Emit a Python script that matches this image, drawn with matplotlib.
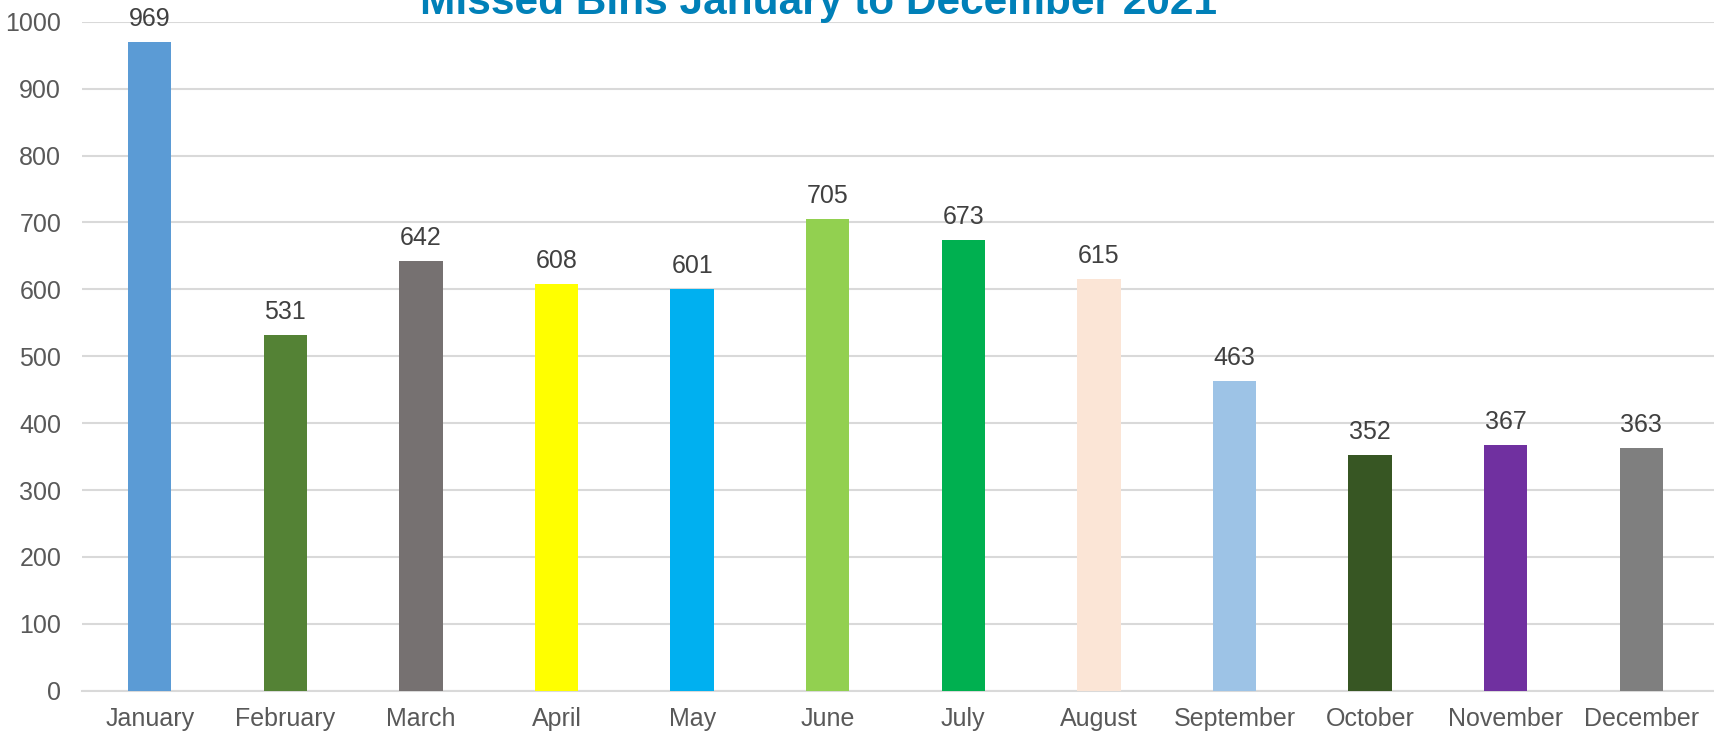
import matplotlib.pyplot as plt

plt.rcParams['font.family'] = ['Liberation Sans', 'DejaVu Sans']

months = ['January', 'February', 'March', 'April', 'May', 'June',
          'July', 'August', 'September', 'October', 'November', 'December']
missed = [969, 531, 642, 608, 601, 705, 673, 615, 463, 352, 367, 363]
colours = ['#5B9BD5', '#548235', '#767171', '#FFFF00', '#00B0F0', '#92D050',
           '#00B050', '#FBE5D6', '#9DC3E6', '#375623', '#7030A0', '#7F7F7F']
yticks = list(range(0, 1001, 100))

W, H = 1714, 734
fig = plt.figure(figsize=(W / 100, H / 100), dpi=100)
ax = fig.add_axes([82 / W, 1 - 690.7 / H, (W - 82) / W, (690.7 - 21.7) / H])

x = range(len(months))
ax.bar(x, missed, width=0.32, color=colours, zorder=3)

# value labels above each bar
for i, v in enumerate(missed):
    ax.annotate(str(v), (i, v), xytext=(0, 11.5), textcoords='offset points',
                ha='center', va='baseline', fontsize=18, color='#404040',
                annotation_clip=False)

ax.set_ylim(0, 1000)
ax.set_xlim(-0.5, 11.5 + 5 / 135.6)
ax.set_yticks(yticks)
ax.set_xticks(list(x))
ax.set_xticklabels(months)
ax.tick_params(axis='both', length=0, labelsize=18, labelcolor='#595959')
ax.tick_params(axis='y', pad=15)
ax.tick_params(axis='x', pad=12)
ax.grid(axis='y', color='#D9D9D9', linewidth=1.5, zorder=0)
for s in ['top', 'right', 'left']:
    ax.spines[s].set_visible(False)
ax.spines['bottom'].set_color('#D9D9D9')
ax.spines['bottom'].set_linewidth(1.5)

fig.text(818 / W, 1 - 14 / H, 'Missed Bins January to December 2021',
         ha='center', va='baseline', fontsize=30.5, fontweight='bold',
         color='#0080B8')

fig.savefig('out.png', dpi=100)
